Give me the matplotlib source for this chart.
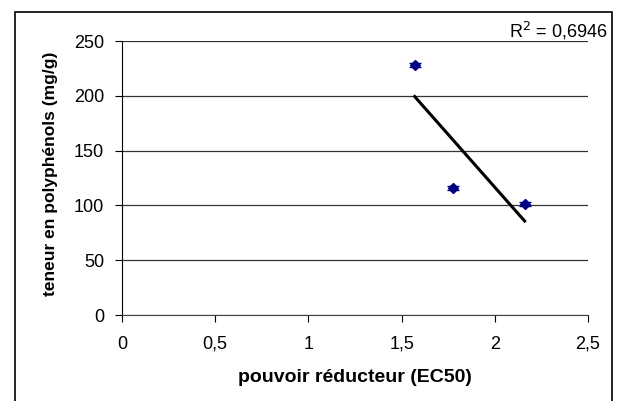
import numpy as np
import matplotlib.pyplot as plt
from matplotlib.patches import Rectangle

plt.rcParams['font.family'] = ['Liberation Sans', 'DejaVu Sans']

# données
ec50 = [1.57, 1.775, 2.16]
polyphenols = [228, 116, 101]
erreurs = [2, 2, 2]
r2_texte = 'R$^2$ = 0,6946'

xticks = [0, 0.5, 1, 1.5, 2, 2.5]
yticks = [0, 50, 100, 150, 200, 250]

W, H = 620, 401
fig = plt.figure(figsize=(W / 100, H / 100), dpi=100)

# cadre extérieur
fig.patches.append(Rectangle((15 / W, -0.05), (612 - 15) / W, 1.05 - 12 / H,
                             transform=fig.transFigure, fill=False,
                             edgecolor='black', linewidth=1.2))

ax = fig.add_axes([122 / W, (H - 315) / H, (588 - 122) / W, (315 - 41) / H])

# droite de régression
pente, origine = np.polyfit(ec50, polyphenols, 1)
xs = np.array([min(ec50), max(ec50)])
ax.plot(xs, pente * xs + origine, color='black', linewidth=2.2, zorder=3)

ax.errorbar(ec50, polyphenols, yerr=erreurs, fmt='D', color='#000080',
            markersize=5, capsize=4, elinewidth=1, zorder=4)

ax.set_xlim(0, 2.5)
ax.set_ylim(0, 250)
ax.set_xticks(xticks)
ax.set_xticklabels([str(t).replace('.', ',') for t in xticks])
ax.set_yticks(yticks)
ax.tick_params(labelsize=13, length=5, width=0.8)
ax.tick_params(axis='y', pad=8)
ax.tick_params(axis='x', pad=10)
ax.grid(axis='y', color='#333333', linewidth=0.9)
for s in ['top', 'right']:
    ax.spines[s].set_visible(False)
ax.spines['bottom'].set_color('#444444')

ax.set_xlabel('pouvoir réducteur (EC50)', fontsize=14, fontweight='bold', labelpad=12)
ax.set_ylabel('teneur en polyphénols (mg/g)', fontsize=12.5, fontweight='bold')
ax.yaxis.set_label_coords(-0.137, 0.515)

fig.text(608 / W, 1 - 37 / H, r2_texte, ha='right', va='baseline', fontsize=13)

fig.savefig('out.png', dpi=100)
